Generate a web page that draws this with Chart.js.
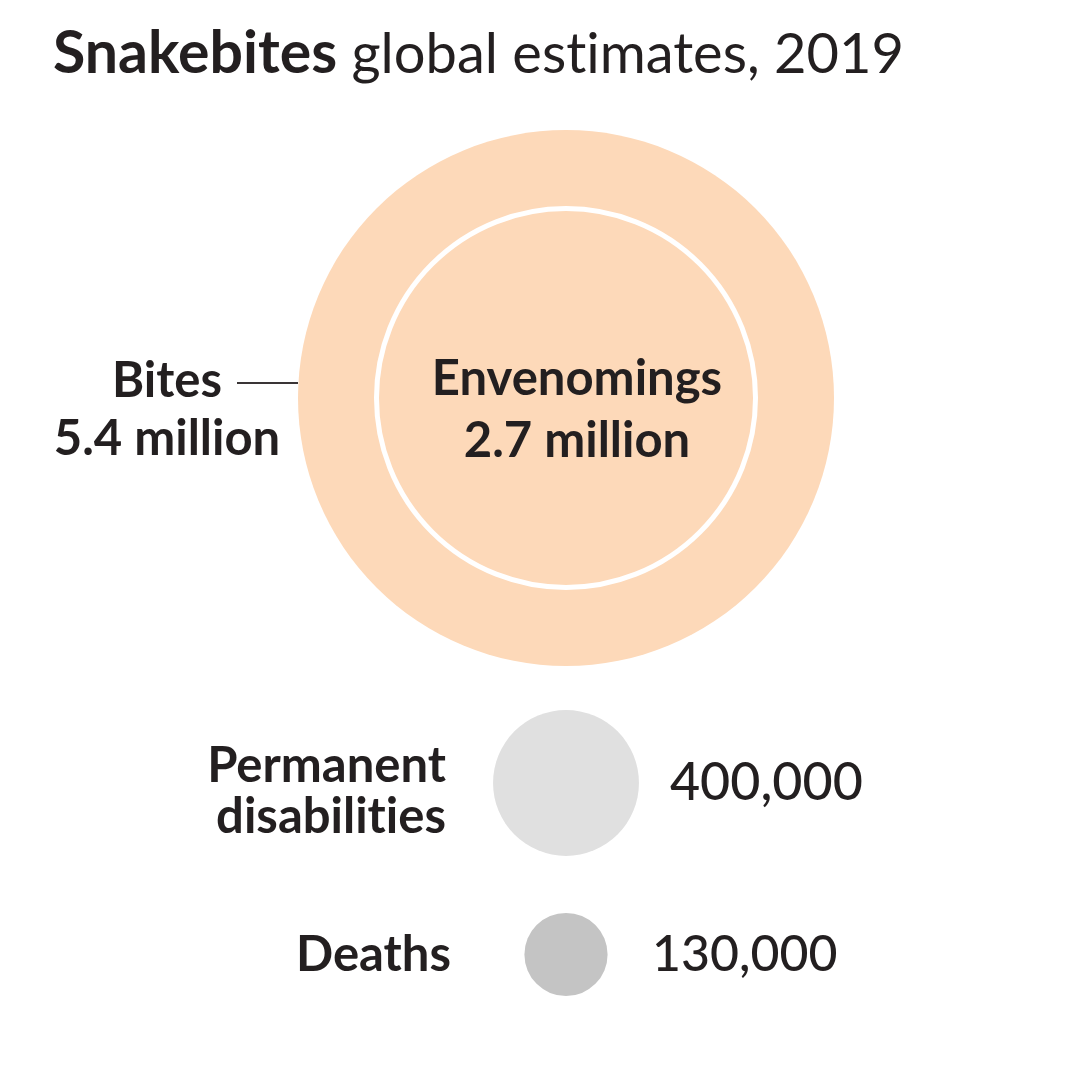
<!DOCTYPE html>
<html>
<head>
<meta charset="utf-8">
<script src="https://cdn.jsdelivr.net/npm/chart.js@4/dist/chart.umd.min.js"></script>
<style>
  html, body { margin: 0; padding: 0; background: #fff; }
  canvas { display: block; }
</style>
</head>
<body>
<canvas id="snakeChart" width="1079" height="1086"></canvas>
<script>
const categories = ["Bites", "Envenomings", "Permanent disabilities", "Deaths"];
const values = [5400000, 2700000, 400000, 130000];
const valueLabels = ["5.4 million", "2.7 million", "400,000", "130,000"];
const nestedIn = [null, 0, null, null];   // envenomings sit inside bites
const colors = ["#fdd9b9", "#fdd9b9", "#e0e0e0", "#c4c4c4"];

const W = 1079, H = 1086;
const ink = "#231f20";
const maxR = 268;          // radius of the largest circle
const centerX = 566;
const firstTop = 130;
const gaps = [44, 57];     // white space between stacked circles

// Lato has a "ti" ligature the original font doesn't
const noLig = (s) => s.replace(/ti/g, "t\u200Ci");

// circle area proportional to value
const radii = values.map((v) => maxR * Math.sqrt(v / values[0]));

// stack the circles top to bottom, nested ones share their parent's centre
const centersY = [];
let cursor = firstTop, row = 0;
values.forEach((v, i) => {
  if (nestedIn[i] !== null) {
    centersY.push(centersY[nestedIn[i]]);
    return;
  }
  centersY.push(cursor + radii[i]);
  cursor += radii[i] * 2 + (gaps[row++] || 0);
});

const labelPlugin = {
  id: "labels",
  afterDatasetsDraw(chart) {
    const { ctx } = chart;
    const xs = chart.scales.x, ys = chart.scales.y;
    const px = (i) => xs.getPixelForValue(centerX);
    const py = (i) => ys.getPixelForValue(centersY[i]);
    ctx.save();
    ctx.fillStyle = ink;
    ctx.textBaseline = "alphabetic";

    // title
    ctx.font = "bold 59px Lato";
    ctx.textAlign = "left";
    ctx.fillText("Snakebites", 53, 73);
    const tw = ctx.measureText("Snakebites ").width;
    ctx.font = "56px Lato";
    ctx.fillText(noLig("global estimates, 2019"), 53 + tw, 73);

    // bites, to the left of the big circle
    const bx = px(0) - radii[0] - 131;
    ctx.textAlign = "center";
    ctx.font = "bold 49px Lato";
    ctx.fillText(categories[0], bx, py(0) - 1);
    ctx.fillText(valueLabels[0], bx, py(0) + 57);
    const bw = ctx.measureText(categories[0]).width;
    ctx.strokeStyle = "#3a3536";
    ctx.lineWidth = 2;
    ctx.beginPath();
    ctx.moveTo(bx + bw / 2 + 15, py(0) - 15);
    ctx.lineTo(px(0) - radii[0], py(0) - 15);
    ctx.stroke();

    // envenomings, inside
    ctx.fillText(categories[1], px(1) + 11, py(1) - 3);
    ctx.fillText(valueLabels[1], px(1) + 11, py(1) + 59);

    // permanent disabilities
    ctx.textAlign = "right";
    ctx.fillText("Permanent", px(2) - 120, py(2) - 1);
    ctx.fillText(noLig("disabilities"), px(2) - 120, py(2) + 50);
    ctx.textAlign = "left";
    ctx.font = "500 52px Lato";
    ctx.fillText(valueLabels[2], px(2) + radii[2] + 31, py(2) + 17);

    // deaths
    ctx.textAlign = "right";
    ctx.font = "bold 49px Lato";
    ctx.fillText(categories[3], px(3) - 115, py(3) + 17);
    ctx.textAlign = "left";
    ctx.font = "500 50px Lato";
    ctx.fillText(valueLabels[3], px(3) + 86, py(3) + 17);
    ctx.restore();
  }
};

new Chart(document.getElementById("snakeChart"), {
  type: "bubble",
  data: {
    labels: categories,
    datasets: [{
      data: values.map((v, i) => ({ x: centerX, y: centersY[i], r: radii[i] })),
      backgroundColor: colors,
      borderColor: colors.map((c, i) => nestedIn[i] !== null ? "#ffffff" : c),
      borderWidth: values.map((v, i) => nestedIn[i] !== null ? 5 : 0),
      hoverRadius: 0,
      clip: false
    }]
  },
  options: {
    responsive: false,
    animation: false,
    layout: { padding: 0, autoPadding: false },
    plugins: { legend: { display: false }, tooltip: { enabled: false } },
    scales: {
      x: { type: "linear", min: 0, max: W, display: false },
      y: { type: "linear", min: 0, max: H, reverse: true, display: false }
    }
  },
  plugins: [labelPlugin]
});
</script>
</body>
</html>
